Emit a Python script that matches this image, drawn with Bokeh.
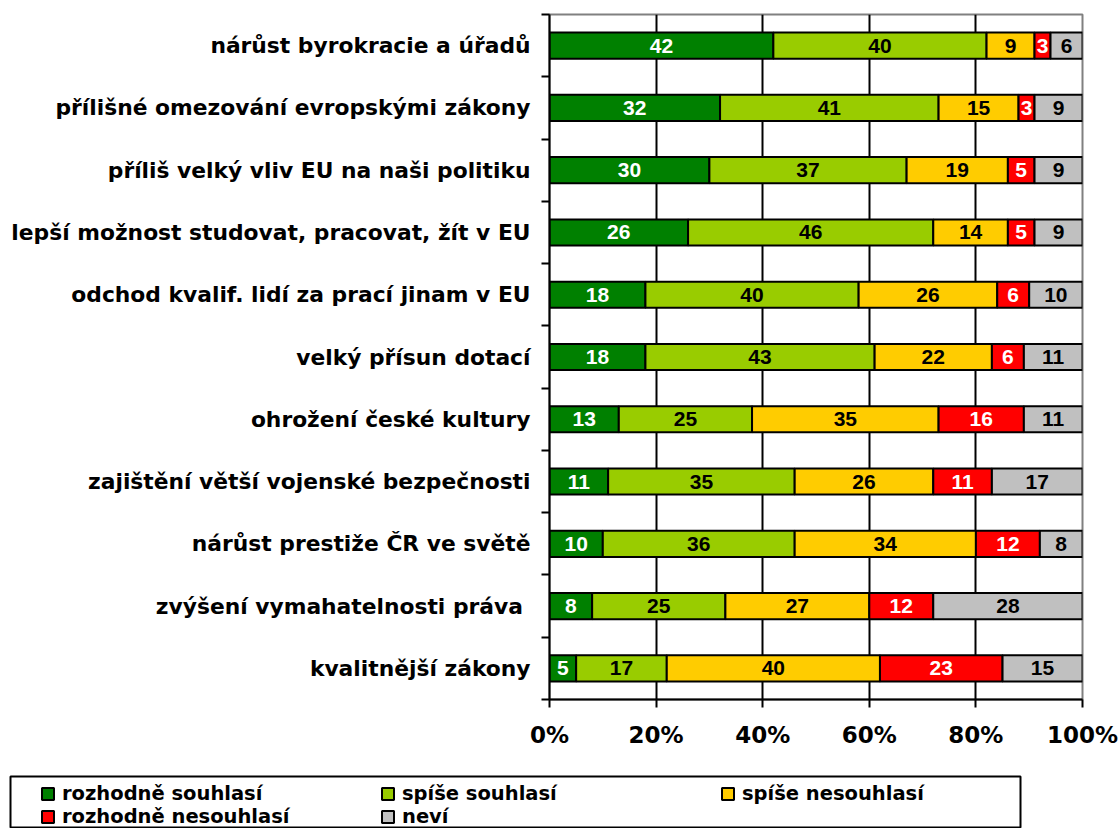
from bokeh.plotting import figure
from bokeh.models import Range1d, FixedTicker, Legend, LegendItem, ColumnDataSource
from bokeh.layouts import column
from bokeh.core.properties import value
from bokeh.embed import file_html
from bokeh.resources import INLINE

categories = [
    "nárůst byrokracie a úřadů",
    "přílišné omezování evropskými zákony",
    "příliš velký vliv EU na naši politiku",
    "lepší možnost studovat, pracovat, žít v EU",
    "odchod kvalif. lidí za prací jinam v EU",
    "velký přísun dotací",
    "ohrožení české kultury",
    "zajištění větší vojenské bezpečnosti",
    "nárůst prestiže ČR ve světě",
    "zvýšení vymahatelnosti práva ",
    "kvalitnější zákony",
]
rozhodne_souhlasi = [42, 32, 30, 26, 18, 18, 13, 11, 10, 8, 5]
spise_souhlasi = [40, 41, 37, 46, 40, 43, 25, 35, 36, 25, 17]
spise_nesouhlasi = [9, 15, 19, 14, 26, 22, 35, 26, 34, 27, 40]
rozhodne_nesouhlasi = [3, 3, 5, 5, 6, 6, 16, 11, 12, 12, 23]
nevi = [6, 9, 9, 9, 10, 11, 11, 17, 8, 28, 15]
series_names = ["rozhodně souhlasí", "spíše souhlasí", "spíše nesouhlasí",
                "rozhodně nesouhlasí", "neví"]
series_values = [rozhodne_souhlasi, spise_souhlasi, spise_nesouhlasi,
                 rozhodne_nesouhlasi, nevi]
colors = ["#008000", "#99CC00", "#FFCC00", "#FF0000", "#C0C0C0"]
label_colors = ["white", "black", "black", "white", "black"]
x_ticks = [0, 20, 40, 60, 80, 100]
x_tick_labels = ["0%", "20%", "40%", "60%", "80%", "100%"]

n = len(categories)
ypos = [i + 0.5 for i in range(n)]
bounds = [float(i) for i in range(n + 1)]

p = figure(width=1120, height=760, output_backend="svg", toolbar_location=None,
           x_range=Range1d(0, 100), y_range=Range1d(n, 0),
           min_border_left=549, min_border_right=38, min_border_top=14, min_border_bottom=61)
p.frame_align = False
p.outline_line_color = "#808080"
p.outline_line_width = 2

data = {"y": ypos}
keys = []
for i, vals in enumerate(series_values):
    k = "s%d" % i
    data[k] = vals
    keys.append(k)
src = ColumnDataSource(data)
rends = p.hbar_stack(keys, y="y", height=0.42, source=src, fill_color=colors,
                     line_color="black", line_width=2)

left = [0] * n
for i, vals in enumerate(series_values):
    mids = [left[j] + vals[j] / 2 for j in range(n)]
    p.text(x=mids, y=ypos, text=[str(v) for v in vals], text_align="center",
           text_baseline="middle", text_font=value("Liberation Sans"),
           text_font_style="bold", text_font_size="21px", text_color=label_colors[i])
    left = [left[j] + vals[j] for j in range(n)]

# x axis
xa = p.xaxis[0]
xa.ticker = FixedTicker(ticks=x_ticks)
xa.major_label_overrides = {t: l for t, l in zip(x_ticks, x_tick_labels)}
xa.major_label_text_font = "DejaVu Sans"
xa.major_label_text_font_style = "bold"
xa.major_label_text_font_size = "23px"
xa.major_label_text_color = "black"
xa.major_label_standoff = 14
xa.axis_line_width = 2
xa.major_tick_line_width = 2
xa.major_tick_out = 8
xa.major_tick_in = 0
xa.minor_tick_out = 0
xa.minor_tick_in = 0

# y axis
ya = p.yaxis[0]
ya.ticker = FixedTicker(ticks=ypos, minor_ticks=bounds)
ya.major_label_overrides = {y: c for y, c in zip(ypos, categories)}
ya.major_label_text_font = "DejaVu Sans"
ya.major_label_text_font_style = "bold"
ya.major_label_text_font_size = "21.8px"
ya.major_label_text_color = "black"
ya.major_label_standoff = 11
ya.axis_line_width = 2
ya.major_tick_out = 0
ya.major_tick_in = 0
ya.minor_tick_out = 8
ya.minor_tick_in = 0
ya.minor_tick_line_width = 2

p.xgrid.ticker = FixedTicker(ticks=[20, 40, 60, 80])
p.xgrid.grid_line_color = "black"
p.xgrid.grid_line_width = 2
p.ygrid.grid_line_color = None

# legend panel (its frame is the legend box); the stacked bars are drawn
# there from the same source but outside its visible range, only to feed the legend
lf = figure(width=1120, height=68, output_backend="svg", toolbar_location=None,
            x_range=Range1d(1000, 1001), y_range=Range1d(1000, 1001),
            x_axis_location=None, y_axis_location=None,
            min_border_left=10, min_border_right=100, min_border_top=16, min_border_bottom=0)
lf.frame_align = False
lf.grid.visible = False
lf.outline_line_color = "black"
lf.outline_line_width = 2
lrends = lf.hbar_stack(keys, y="y", height=0.42, source=src, fill_color=colors,
                       line_color="black", line_width=2)
items = [LegendItem(label=nm, renderers=[r]) for nm, r in zip(series_names, lrends)]
legend = Legend(items=items, orientation="horizontal", ncols=3,
                location=(30, 0), padding=0, margin=0, spacing=0,
                glyph_width=15, glyph_height=15, label_standoff=7,
                label_width=318, label_height=22,
                label_text_font="DejaVu Sans", label_text_font_style="bold",
                label_text_font_size="19.5px", label_text_color="black",
                border_line_alpha=0, background_fill_alpha=0)
lf.add_layout(legend, "center")

layout = column(p, lf, spacing=0)
open("out.html", "w").write(file_html(layout, INLINE))
